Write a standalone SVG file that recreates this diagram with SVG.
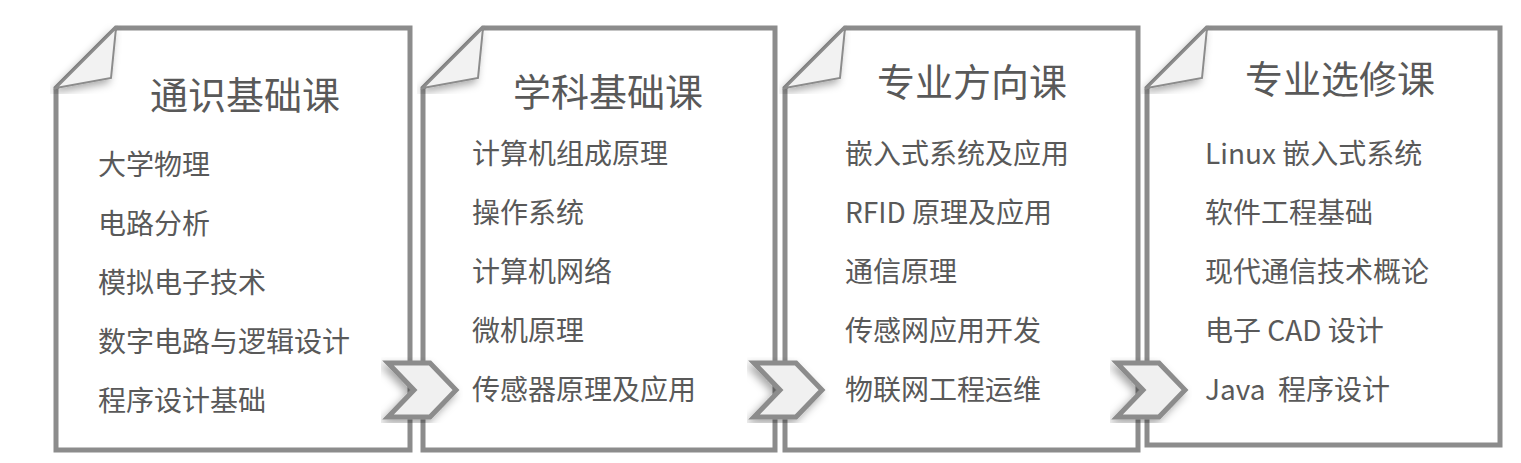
<svg xmlns="http://www.w3.org/2000/svg" width="1521" height="463" viewBox="0 0 1521 463">
<defs>
<filter id="sh" x="-10%" y="-10%" width="120%" height="120%"><feDropShadow dx="-3" dy="4" stdDeviation="4" flood-color="#000" flood-opacity="0.35"/></filter>
</defs>
<style>
.card{fill:#fff;stroke:#8c8c8c;stroke-width:5}
.fold{fill:#f2f2f2;stroke:#8c8c8c;stroke-width:2;filter:url(#sh)}
.chev{fill:#f0f0f0;stroke:#8c8c8c;stroke-width:5;stroke-linejoin:miter;filter:url(#sh)}
.t{font-family:"Noto Sans CJK SC","Liberation Sans",sans-serif;font-size:38px;fill:#595959;text-anchor:middle}
.i{font-family:"Noto Sans CJK SC","Liberation Sans",sans-serif;font-size:28px;fill:#595959}
</style>
<rect width="1521" height="463" fill="#fff"/>
<g id="card1">
<path class="card" d="M116,28 H410 V450 H56 V88 Z"/>
<path class="fold" d="M56,88 L116,28 L111,78 Z"/>
<text class="t" x="245" y="109">通识基础课</text>
<text class="i" x="98" y="175">大学物理</text>
<text class="i" x="98" y="234">电路分析</text>
<text class="i" x="98" y="293">模拟电子技术</text>
<text class="i" x="98" y="352">数字电路与逻辑设计</text>
<text class="i" x="98" y="411">程序设计基础</text>
</g>
<g id="card2">
<path class="card" d="M483,28 H775 V450 H423 V88 Z"/>
<path class="fold" d="M423,88 L483,28 L478,78 Z"/>
<text class="t" x="608" y="106">学科基础课</text>
<text class="i" x="472" y="164">计算机组成原理</text>
<text class="i" x="472" y="223">操作系统</text>
<text class="i" x="472" y="282">计算机网络</text>
<text class="i" x="472" y="341">微机原理</text>
<text class="i" x="472" y="400">传感器原理及应用</text>
</g>
<g id="card3">
<path class="card" d="M845,28 H1138 V450 H785 V88 Z"/>
<path class="fold" d="M785,88 L845,28 L840,78 Z"/>
<text class="t" x="972" y="96">专业方向课</text>
<text class="i" x="845" y="164">嵌入式系统及应用</text>
<text class="i" x="845" y="223">RFID 原理及应用</text>
<text class="i" x="845" y="282">通信原理</text>
<text class="i" x="845" y="341">传感网应用开发</text>
<text class="i" x="845" y="400">物联网工程运维</text>
</g>
<g id="card4">
<path class="card" d="M1207,28 H1500 V445 H1147 V88 Z"/>
<path class="fold" d="M1147,88 L1207,28 L1202,78 Z"/>
<text class="t" x="1340" y="93">专业选修课</text>
<text class="i" x="1205" y="164">Linux 嵌入式系统</text>
<text class="i" x="1205" y="223">软件工程基础</text>
<text class="i" x="1205" y="282">现代通信技术概论</text>
<text class="i" x="1205" y="341">电子 CAD 设计</text>
<text class="i" x="1205" y="400" xml:space="preserve">Java  程序设计</text>
</g>
<g id="connectors">
<path class="chev" d="M388,363 H430 L456,390 L430,417 H388 L414,390 Z"/>
<path class="chev" d="M754,363 H796 L822,390 L796,417 H754 L780,390 Z"/>
<path class="chev" d="M1117,363 H1159 L1185,390 L1159,417 H1117 L1143,390 Z"/>
</g>
</svg>
